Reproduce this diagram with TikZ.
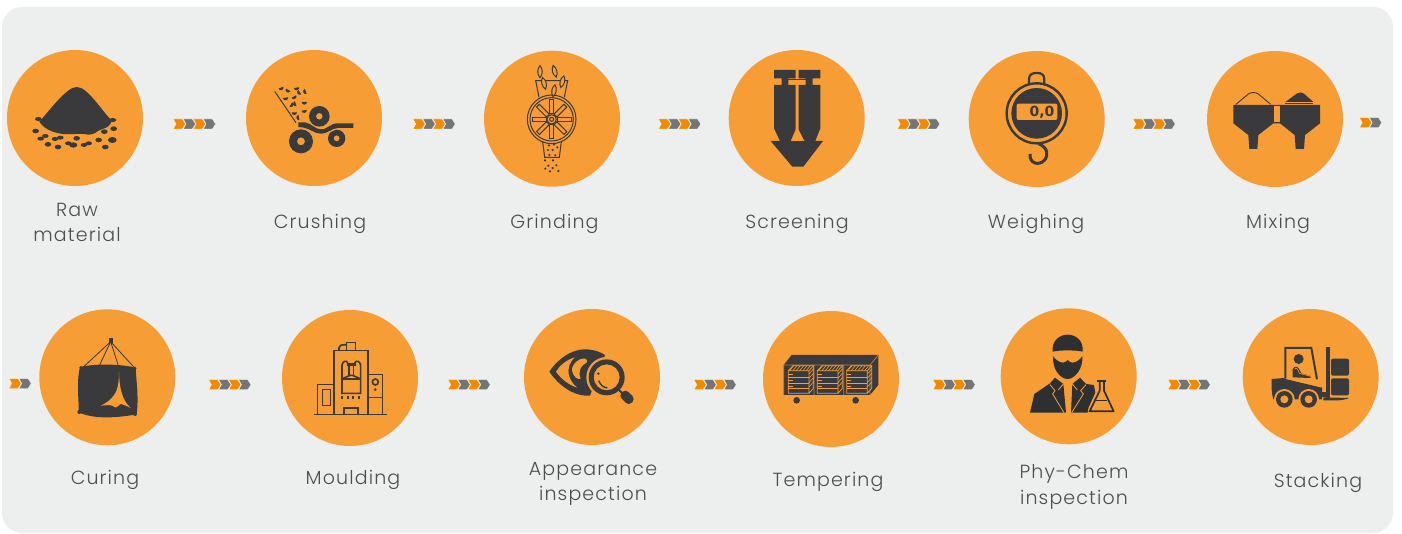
\documentclass[tikz,border=0pt]{standalone}
\usepackage{fontspec}
\setmainfont{Poppins Light}[LetterSpace=6]
\newfontfamily\gaugefont{DejaVu Sans}[Scale=1]
\definecolor{bgpanel}{HTML}{EDEFEF}
\definecolor{disc}{HTML}{F69E35}
\definecolor{ink}{HTML}{3A3A3C}
\definecolor{chevo}{HTML}{F08A00}
\definecolor{chevg}{HTML}{757575}
\newcommand{\chevs}[3]{% x, y, count
  \begin{scope}[shift={(#1,#2)}]
    \foreach \i in {1,...,#3}{
      \pgfmathtruncatemacro{\m}{mod(\i,2)}
      \pgfmathsetmacro{\xs}{(\i-1)*10}
      \ifnum\m=1 \def\cc{chevo}\else\def\cc{chevg}\fi
      \fill[\cc,draw=white,line width=.25pt,shift={(\xs,0)}] (0,-5)--(9,-5)--(12.2,0)--(9,5)--(0,5)--(2.8,0)--cycle;
    }
  \end{scope}}
\tikzset{
  x=1pt,y=-1pt,
  discnode/.style={circle,fill=disc,draw=none,minimum size=136pt,inner sep=0pt},
  lab/.style={text=ink!90,font=\fontsize{19}{25}\selectfont,align=center,inner sep=0pt},
  zo/.style={shift={(#1)},scale=1/3},
  ol/.style={draw=ink,line width=1.6pt,fill=none},
  olt/.style={draw=ink,line width=1pt,fill=none},
}
\begin{document}
\begin{tikzpicture}
\useasboundingbox (0,0) rectangle (1402,534);
\fill[white] (0,0) rectangle (1402,534);
\fill[bgpanel,rounded corners=20pt] (2,7) rectangle (1393,533);
% discs
\node[discnode] (d1) at (75,118) {};
\node[discnode] (d2) at (314,118) {};
\node[discnode] (d3) at (552,118.7) {};
\node[discnode] (d4) at (796.7,118) {};
\node[discnode] (d5) at (1036.7,119) {};
\node[discnode] (d6) at (1275,119) {};
\node[discnode] (d7) at (107.3,377.3) {};
\node[discnode] (d8) at (350,378) {};
\node[discnode] (d9) at (592,377) {};
\node[discnode] (d10) at (831,379) {};
\node[discnode] (d11) at (1068.7,376.3) {};
\node[discnode] (d12) at (1310.7,377) {};
% chevrons
\chevs{173.3}{124}{4}\chevs{413}{124}{4}\chevs{658.5}{124}{4}\chevs{897.5}{124}{4}\chevs{1133}{124}{4}\chevs{1359.5}{122.7}{2}
\chevs{9}{383.5}{2}\chevs{208.7}{384.7}{4}\chevs{448}{384.7}{4}\chevs{694}{384.7}{4}\chevs{933}{384.7}{4}\chevs{1168}{384.7}{4}
% labels
\node[lab] (t1) at (77,222.5) {Raw\\[.2pt]material};
\node[lab] (t2) at (320,224) {Crushing};
\node[lab] (t3) at (554.5,224) {Grinding};
\node[lab] (t4) at (797,224) {Screening};
\node[lab] (t5) at (1036,224) {Weighing};
\node[lab] (t6) at (1278,224) {Mixing};
\node[lab] (t7) at (105,480) {Curing};
\node[lab] (t8) at (353,480) {Moulding};
\node[lab] (t9) at (593,484) {Appearance\\[.2pt]inspection};
\node[lab] (t10) at (828,481.5) {Tempering};
\node[lab] (t11) at (1074,487) {Phy-Chem\\[.2pt]inspection};
\node[lab] (t12) at (1318,482.5) {Stacking};
% --- raw material
\begin{scope}[zo={0,40}]
\fill[ink] (118,245) .. controls (150,210) and (200,141) .. (230,141) .. controls (262,141) and (300,205) .. (335,242) .. controls (332,255) and (325,262) .. (305,268) .. controls (290,272) and (285,285) .. (265,284) .. controls (240,278) and (215,285) .. (190,282) .. controls (170,280) and (135,272) .. (118,245) -- cycle;
\foreach \a/\b/\c/\d in {115/237/10/6,107/273/10/7,338/240/11/6,341/266/10/7,313/275/10/7,122/296/10/6,136/288/10/6,165/297/10/6,181/293/10/6,230/295/10/7,296/300/10/7,337/300/13/9,144/313/10/7,174/321/10/7,205/310/10/6,220/315/12/8,252/315/10/6,266/310/10/6,316/321/10/7}
  \fill[ink] (\a,\b) ellipse ({\c} and {\d});
\end{scope}
% --- crushing
\begin{scope}[zo={0,40}]
\draw[ink,line width=1pt] (824,154)--(888,248);
\fill[ink,even odd rule] (958,229) circle (31) (958,229) circle (10);
\fill[ink,even odd rule] (903,304) circle (36) (903,304) circle (12);
\fill[ink,even odd rule] (1010,295) circle (26) (1010,295) circle (9);
\fill[disc] (895,246) .. controls (930,246) and (935,272) .. (962,272) .. controls (985,272) and (985,243) .. (1060,243) -- (1062,260) .. controls (1000,260) and (990,285) .. (962,285) .. controls (930,285) and (925,265) .. (895,264) -- cycle;
\fill[ink] (895,247) -- (915,247) .. controls (935,250) and (945,268) .. (962,268) .. controls (985,268) and (990,250) .. (1012,250) -- (1060,250) -- (1060,264) -- (1015,264) .. controls (995,264) and (985,281) .. (962,281) .. controls (940,281) and (930,262) .. (895,261) -- cycle;
\foreach \a/\b/\r in {842/140/20,866/147/-30,889/140/10,902/155/-60,920/153/-70,856/170/10,880/167/30,913/183/0,870/192/60,890/190/-70,912/208/10,883/214/0,900/232/-80}
  \fill[ink,shift={(\a,\b)},rotate=\r] (-8,3) arc[start angle=180,end angle=0,radius=8] -- cycle;
\end{scope}
% --- grinding
\begin{scope}[zo={470,40}]
\draw[olt] (245,238) circle (73) (245,238) circle (65) (245,238) circle (14) (245,238) circle (6);
\foreach \r in {0,45,...,315}
  \draw[olt,rotate around={\r:(245,238)}] (261,232) rectangle (303,244);
\draw[olt] (207,172)--(197,122)--(293,122)--(283,172);
\draw[olt] (218,305)--(224,352)--(268,352)--(274,305);
\foreach \a/\b/\r in {210/95/0,254/94/15,222/130/15,277/125/-15,252/152/-10}
  \draw[olt,fill=disc,rotate around={\r:(\a,\b)}] (\a,\b-18) .. controls (\a+9,\b-8) and (\a+9,\b+8) .. (\a,\b+18) .. controls (\a-9,\b+8) and (\a-9,\b-8) .. (\a,\b-18) -- cycle;
\foreach \a/\b in {237/316,252/313,262/322,234/330,248/330,256/346,238/345,225/361,249/361,235/377,259/376,226/386,248/384,240/394,265/393}
  \fill[ink] (\a,\b) circle (3.6);
\end{scope}
% --- screening
\begin{scope}[zo={470,40}]
\fill[ink] (912,90)--(977,90)--(977,115)--(955,115)--(955,135)--(977,135)--(977,268)--(962,303)--(930,303)--(912,265)--(912,135)--(935,135)--(935,115)--(912,115)--cycle;
\fill[ink] (1051,90)--(986,90)--(986,115)--(1007,115)--(1007,135)--(986,135)--(986,268)--(1003,303)--(1036,303)--(1051,265)--(1051,135)--(1028,135)--(1028,115)--(1051,115)--cycle;
\fill[ink] (902,303)--(1059,303)--(1000,380)--(967,380)--cycle;
\draw[ink,line width=.6pt] (955,117)--(1007,117);
\fill[disc] (983,268)--(1003,303)--(963,303)--cycle;
\end{scope}
% --- weighing
\begin{scope}[zo={940,40}]
\draw[ink,line width=2.4pt] (290,220) circle (90);
\fill[ink] (290,220) circle (76);
\fill[disc,rounded corners=2pt] (230,191) rectangle (352,240);
\node[text=ink,font=\gaugefont\bfseries\fontsize{14}{14}\selectfont,inner sep=0pt] (g) at (306,217) {0,0};
\draw[ink,line width=2.2pt] (267,132) -- (267,118) .. controls (267,104) and (275,99) .. (290,99) .. controls (305,99) and (313,104) .. (313,118) -- (313,132);
\draw[ink,line width=3pt] (296,311) .. controls (322,322) and (328,345) .. (312,362) .. controls (295,378) and (268,370) .. (270,342);
\end{scope}
% --- mixing
\begin{scope}[zo={940,40}]
\fill[ink] (880,195)--(1140,195)--(1140,250)--(1095,285)--(1092,327)--(1067,327)--(1064,285)--(1020,250)--(1000,250)--(955,285)--(952,327)--(928,327)--(925,285)--(880,250)--cycle;
\fill[disc] (1001,199) rectangle (1019,245);
\draw[ink,line width=.9pt] (888,193)--(925,162) .. controls (935,156) and (945,156) .. (955,162) -- (992,193);
\fill[ink] (1036,186)--(1070,161) .. controls (1078,156) and (1086,156) .. (1092,161) -- (1120,186) --cycle;
\draw[ink,line width=.6pt] (1036,189)--(1120,189);
\end{scope}
% --- curing
\begin{scope}[zo={0,300}]
\fill[ink] (327,113) rectangle (338,130);
\draw[ink,line width=.8pt] (332,125)--(248,203) (332,125)--(298,197) (332,125)--(355,197) (332,125)--(405,205);
\fill[ink] (240,201) .. controls (290,190) and (360,192) .. (408,203) .. controls (405,220) and (418,280) .. (410,343) .. controls (370,350) and (290,362) .. (236,337) .. controls (238,310) and (228,250) .. (240,201) -- cycle;
\fill[ink] (243,203) circle (5) (405,205) circle (5) (238,336) circle (6) (405,342) circle (6);
\fill[disc] (357,216) .. controls (356,260) and (355,290) .. (303,317) .. controls (320,316) and (335,312) .. (345,322) .. controls (352,324) and (358,312) .. (364,312) .. controls (375,314) and (382,320) .. (392,324) .. controls (365,300) and (358,260) .. (357,216) -- cycle;
\end{scope}
% --- moulding
\begin{scope}[zo={0,300}]
\draw[ol] (941,343)--(1160,343);
\draw[ol] (1002,343)--(1002,151)--(1104,151)--(1104,343);
\draw[ol] (1032,343)--(1032,324)--(1074,324)--(1074,343);
\draw[ol] (953,343)--(953,254)--(1002,254);
\draw[ol] (967,268) rectangle (992,317);
\draw[ol] (1104,224)--(1147,224)--(1147,343);
\draw[ol] (1104,293)--(1147,293);
\draw[ol] (1126,246) circle (9);
\fill[ink] (1126,269) circle (4.5);
\draw[ol] (1017,151)--(1017,143) .. controls (1017,137) and (1022,134) .. (1040,134);
\draw[ol] (1040,151)--(1040,127)--(1066,127)--(1066,151);
\draw[ol] (1026,280)--(1026,195) .. controls (1028,183) and (1040,180) .. (1043,188) -- (1043,192)--(1065,192)--(1065,188) .. controls (1068,180) and (1080,183) .. (1082,195) -- (1082,280) -- cycle;
\draw[ol] (1026,237)--(1082,237);
\draw[ol] (1030,235)--(1050,226)--(1058,226)--(1078,235);
\draw[ol] (1040,197)--(1068,197) (1047,197)--(1047,225) (1060,197)--(1060,225);
\foreach \a in {1027,1044,1060,1078} \fill[ink] (\a-3.5,288) rectangle (\a+3.5,296);
\end{scope}
% --- eye
\begin{scope}[zo={470,300}]
\fill[ink] (238,215) .. controls (265,175) and (305,148) .. (345,148) .. controls (370,148) and (390,155) .. (405,165) -- (360,287) .. controls (310,290) and (265,255) .. (238,215) -- cycle;
\fill[disc] (314,172) .. controls (290,180) and (270,195) .. (258,215) .. controls (272,235) and (295,255) .. (322,263) .. controls (298,245) and (280,205) .. (314,172) -- cycle;
\fill[disc] (330,178) .. controls (345,172) and (355,178) .. (350,188) .. controls (335,195) and (322,210) .. (332,236) .. controls (322,240) and (310,230) .. (306,212) .. controls (304,200) and (315,185) .. (330,178) -- cycle;
\fill[disc] (410,232) circle (61);
\fill[ink,even odd rule] (410,232) circle (54) (410,232) circle (39);
\draw[ink,line width=1.4pt] (386,242) .. controls (392,256) and (400,262) .. (412,264);
\fill[ink] (385,221) circle (4);
\draw[ink,line width=2pt] (445,268)--(462,285);
\fill[ink,rounded corners=4pt] (446,287)--(466,267)--(496,297)--(476,317)--cycle;
\end{scope}
% --- tempering
\begin{scope}[zo={470,300}]
\fill[ink] (941,195)--(965,165)--(1225,165)--(1225,255)--(1200,285)--(941,285)--cycle;
\draw[disc!70!ink,line width=.7pt] (941,285)--(941,195)--(1200,195)--(1225,165) (1200,195)--(1200,285) (1032,197)--(1032,285) (1121,197)--(1121,285);
\foreach \p in {955,1042,1130}{
  \begin{scope}[shift={(\p,0)}]
    \draw[disc,line width=.7pt] (0,212)--(62,212)--(62,280)--(0,280)--cycle (62,212)--(75,197)--(75,265)--(62,280);
    \foreach \y in {232,250,266} \draw[disc,line width=.8pt] (0,\y)--(62,\y);
    \draw[disc,line width=.7pt] (0,212)--(14,197)--(75,197);
    \foreach \h in {0,10,...,50} \draw[disc,line width=.6pt] (\h+4,212)--(\h+16,197);
    \foreach \y in {222,235,248,261} \draw[disc,line width=.6pt] (62,\y)--(75,\y-15);
    \foreach \y in {222,242,258} \draw[disc,line width=.7pt] (0,\y)--(14,\y);
  \end{scope}}
\fill[ink] (980,301) circle (10) (1157,301) circle (10);
\end{scope}
% --- inspector
\begin{scope}[zo={940,300}]
\definecolor{inkb}{HTML}{2E2F31}
\fill[inkb] (338,155) .. controls (335,120) and (360,104) .. (383,104) .. controls (406,104) and (431,120) .. (428,155) .. controls (410,150) and (356,150) .. (338,155) -- cycle;
\fill[inkb] (340,168) .. controls (345,180) and (360,188) .. (370,188) .. controls (376,188) and (380,182) .. (383,180) .. controls (386,182) and (390,188) .. (396,188) .. controls (408,188) and (420,180) .. (427,168) .. controls (430,205) and (405,237) .. (383,237) .. controls (360,237) and (335,205) .. (340,168) -- cycle;
\fill[inkb] (270,338)--(283,282)--(330,250)--(345,233)--(370,252)--(378,338)--cycle;
\fill[inkb] (393,338)--(397,252)--(420,233)--(438,252)--(462,255)--(468,290)--(443,338)--cycle;
\draw[disc,line width=.8pt] (330,254)--(345,272)--(338,282)--(372,338) (370,252)--(355,270);
\draw[disc,line width=.8pt] (438,254)--(422,272)--(430,282)--(395,338) (397,252)--(412,270);
\fill[disc] (443,338)--(468,290)--(475,285)--(470,270)--(445,325)--cycle;
\draw[inkb,line width=1.7pt,line join=round] (479,246)--(479,272)--(449,334)--(521,334)--(492,272)--(492,246);
\fill[inkb] (472,240) rectangle (498,246);
\draw[inkb,line width=.5pt] (468,300)--(502,300);
\end{scope}
% --- forklift
\begin{scope}[zo={940,300}]
\draw[ink,line width=2pt] (1036,236)--(1036,144)--(1114,144)--(1131,238);
\fill[ink] (1076,177) circle (15);
\fill[ink] (1058,232) -- (1058,208) .. controls (1062,196) and (1076,198) .. (1080,212) -- (1084,220) -- (1112,228) -- (1112,234) -- cycle;
\draw[disc,line width=.6pt] (1064,208) .. controls (1068,200) and (1074,206) .. (1078,220) -- (1116,230);
\fill[ink] (995,237) -- (1033,234) -- (1036,237) -- (1140,262) -- (1146,262) -- (1146,298) -- (1000,298) .. controls (994,280) and (994,255) .. (995,237) -- cycle;
\foreach \a in {1033,1106}{
  \fill[disc] (\a,298) circle (31);
  \fill[ink] (\a,298) circle (25);
  \fill[disc] (\a,298) circle (12);
}
\fill[ink] (1157,141) rectangle (1169,300);
\fill[ink] (1146,276)--(1157,276)--(1157,290)--(1146,290)--cycle;
\fill[ink] (1150,292)--(1228,294) .. controls (1215,299) and (1205,301) .. (1190,301) -- (1150,301) -- cycle;
\fill[ink,rounded corners=2pt] (1173,176) rectangle (1227,227);
\fill[ink,rounded corners=2pt] (1173,235) rectangle (1227,286);
\end{scope}
\end{tikzpicture}
\end{document}
